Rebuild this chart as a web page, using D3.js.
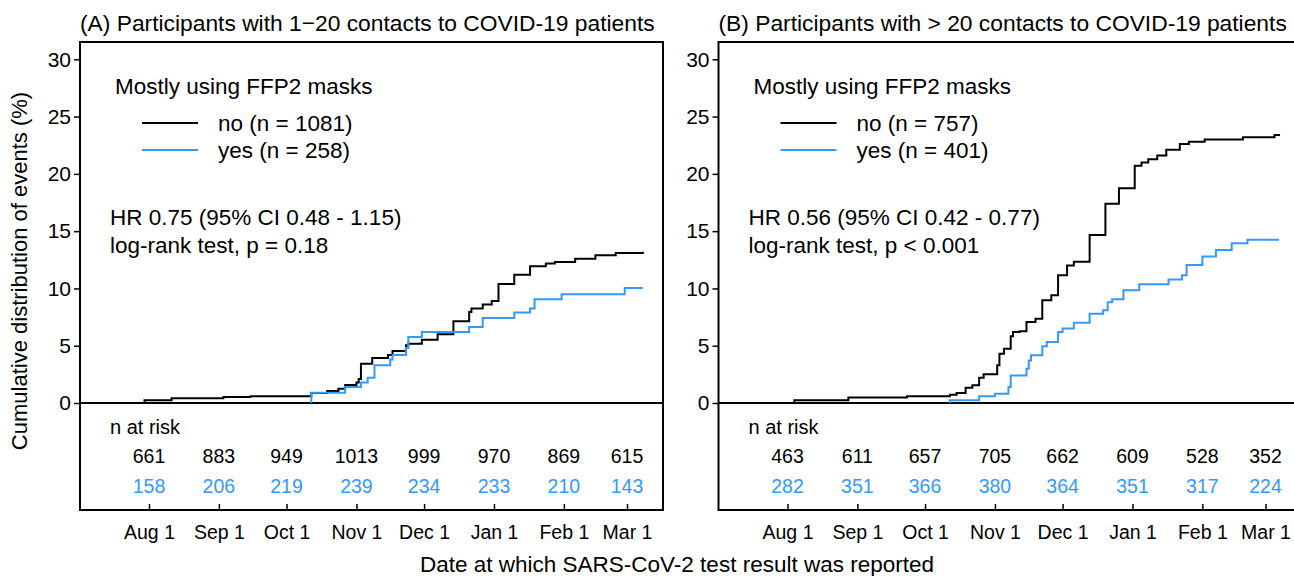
<!DOCTYPE html>
<meta charset="utf-8">
<style>
  body {margin: 0; background: #fff; font-family: "Liberation Sans", Arial, sans-serif;}
  text {fill: #000;}
</style>
<svg width="1294" height="576"></svg>
<script src="https://cdn.jsdelivr.net/npm/d3@7"></script>
<script>
  /**
   * ------------------------------------------------------------------
   * data
   * ------------------------------------------------------------------
   */
  const panelTitles = [
    "(A) Participants with 1\u221220 contacts to COVID-19 patients",
    "(B) Participants with > 20 contacts to COVID-19 patients"
  ];
  const legendLabels = [
    ["no (n = 1081)", "yes (n = 258)"],
    ["no (n = 757)", "yes (n = 401)"]
  ];
  const statsText = [
    ["HR 0.75 (95% CI 0.48 - 1.15)", "log-rank test, p = 0.18"],
    ["HR 0.56 (95% CI 0.42 - 0.77)", "log-rank test, p < 0.001"]
  ];
  const tickDates = ["2020-08-01", "2020-09-01", "2020-10-01", "2020-11-01",
                     "2020-12-01", "2021-01-01", "2021-02-01", "2021-03-01"];
  const tickLabels = ["Aug 1", "Sep 1", "Oct 1", "Nov 1", "Dec 1", "Jan 1", "Feb 1", "Mar 1"];
  const yTicks = [0, 5, 10, 15, 20, 25, 30];

  const riskNoA  = [661, 883, 949, 1013, 999, 970, 869, 615];
  const riskYesA = [158, 206, 219, 239, 234, 233, 210, 143];
  const riskNoB  = [463, 611, 657, 705, 662, 609, 528, 352];
  const riskYesB = [282, 351, 366, 380, 364, 351, 317, 224];

  // panel A, no FFP2
  const aNoDates = ["2020-07-30","2020-07-30","2020-08-11","2020-09-03","2020-09-15","2020-10-12","2020-10-19",
    "2020-10-24","2020-10-27","2020-11-01","2020-11-02","2020-11-03","2020-11-08","2020-11-15","2020-11-17",
    "2020-11-23","2020-11-24","2020-11-30","2020-12-07","2020-12-14","2020-12-21","2020-12-22","2020-12-27",
    "2020-12-31","2021-01-03","2021-01-10","2021-01-17","2021-01-24","2021-01-28","2021-02-06","2021-02-15",
    "2021-02-24","2021-03-08"];
  const aNoPct = [0, 0.23, 0.41, 0.52, 0.58, 0.87, 1.05, 1.25, 1.57, 1.8, 2.1, 3.43, 3.93, 4.2, 4.54, 5.03, 5.18,
    5.53, 6.0, 7.13, 7.95, 8.24, 8.59, 8.9, 10.39, 11.2, 11.93, 12.17, 12.3, 12.6, 12.9, 13.1, 13.2];
  // panel A, FFP2
  const aYesDates = ["2020-10-12","2020-10-12","2020-10-27","2020-11-03","2020-11-06","2020-11-09","2020-11-16",
    "2020-11-17","2020-11-23","2020-11-24","2020-11-30","2020-12-21","2020-12-27","2021-01-10","2021-01-17",
    "2021-01-19","2021-01-31","2021-02-28","2021-03-08"];
  const aYesPct = [0, 0.9, 1.4, 1.8, 2.2, 3.3, 3.8, 4.2, 4.8, 5.76, 6.2, 6.64, 7.42, 7.9, 8.24, 9.05, 9.5, 10.04, 10.04];
  // panel B, no FFP2
  const bNoDates = ["2020-08-04","2020-08-04","2020-08-28","2020-09-23","2020-10-12","2020-10-15","2020-10-19",
    "2020-10-22","2020-10-25","2020-10-27","2020-11-02","2020-11-03","2020-11-05","2020-11-08","2020-11-09",
    "2020-11-12","2020-11-15","2020-11-19","2020-11-22","2020-11-26","2020-11-29","2020-12-03","2020-12-06",
    "2020-12-13","2020-12-20","2020-12-26","2021-01-02","2021-01-05","2021-01-08","2021-01-12","2021-01-16",
    "2021-01-22","2021-01-26","2021-02-02","2021-02-19","2021-03-05","2021-03-07"];
  const bNoPct = [0, 0.23, 0.47, 0.58, 0.73, 0.87, 1.34, 1.54, 2.21, 2.5, 3.29, 4.3, 4.74, 5.82, 6.2, 6.26, 7.07,
    7.36, 8.96, 9.4, 11.15, 12.0, 12.34, 14.67, 17.4, 18.75, 20.7, 21.0, 21.28, 21.6, 22.1, 22.6, 22.8, 23.0,
    23.2, 23.4, 23.47];
  // panel B, FFP2
  const bYesDates = ["2020-10-12","2020-10-12","2020-10-25","2020-11-01","2020-11-07","2020-11-08","2020-11-15",
    "2020-11-16","2020-11-17","2020-11-22","2020-11-24","2020-11-29","2020-12-01","2020-12-06","2020-12-13",
    "2020-12-19","2020-12-21","2020-12-23","2020-12-28","2021-01-04","2021-01-17","2021-01-23","2021-01-25",
    "2021-02-01","2021-02-07","2021-02-14","2021-02-21","2021-03-07"];
  const bYesPct = [0, 0.23, 0.58, 0.81, 1.4, 2.4, 3.0, 3.7, 4.16, 4.95, 5.33, 6.2, 6.5, 7.0, 7.8, 8.1, 8.8, 9.05,
    9.84, 10.36, 10.77, 11.15, 12.05, 12.78, 13.36, 13.95, 14.24, 14.24];

  /**
   * ------------------------------------------------------------------
   * definitions
   * ------------------------------------------------------------------
   */
  const parse = d3.timeParse("%Y-%m-%d");
  const colNo = "#000000", colYes = "#3399ff";
  const boxW = 583, boxTop = 42, boxBottom = 510;
  const panelLeft = [80, 718.5];

  const x = d3.scaleTime()
    .domain([parse("2020-08-01"), parse("2021-03-01")])
    .range([69, 547]);
  const y = d3.scaleLinear().domain([0, 30]).range([403, 59.3]);

  const line = d3.line()
    .x(d => x(d[0])).y(d => y(d[1]))
    .curve(d3.curveStepAfter);

  const zip = (ds, vs) => ds.map((d, i) => [parse(d), vs[i]]);

  const panels = [
    {series: [zip(aNoDates, aNoPct), zip(aYesDates, aYesPct)], risk: [riskNoA, riskYesA]},
    {series: [zip(bNoDates, bNoPct), zip(bYesDates, bYesPct)], risk: [riskNoB, riskYesB]}
  ];

  const svg = d3.select("svg");
  const FONT = "Liberation Sans, Arial, sans-serif";

  /**
   * ------------------------------------------------------------------
   * panels
   * ------------------------------------------------------------------
   */
  panels.forEach((p, k) => {
    const g = svg.append("g").attr("transform", `translate(${panelLeft[k]},0)`);

    // title, left aligned with the box
    g.append("text")
      .attr("x", 0).attr("y", 31)
      .style("font-size", "22.8px")
      .text(panelTitles[k]);

    // box
    g.append("rect")
      .attr("x", 0).attr("y", boxTop)
      .attr("width", boxW).attr("height", boxBottom - boxTop)
      .attr("fill", "none").attr("stroke", "#000").attr("stroke-width", 2);

    // zero line
    g.append("line")
      .attr("x1", 0).attr("x2", boxW)
      .attr("y1", y(0)).attr("y2", y(0))
      .attr("stroke", "#000").attr("stroke-width", 2);

    // y axis
    const ya = g.append("g")
      .call(d3.axisLeft(y).tickValues(yTicks).tickSize(6).tickPadding(3));
    ya.select(".domain").remove();
    ya.selectAll("line").attr("stroke-width", 1.5);
    ya.selectAll("text").style("font-size", "21px").style("font-family", FONT);

    // x axis (ticks pointing up into the box)
    const xa = g.append("g")
      .attr("transform", `translate(0,${boxBottom})`)
      .call(d3.axisBottom(x).tickValues(tickDates.map(parse))
        .tickFormat((d, i) => tickLabels[i]).tickSizeInner(-6).tickSizeOuter(0).tickPadding(15));
    xa.select(".domain").remove();
    xa.selectAll("line").attr("stroke-width", 1.5);
    xa.selectAll("text").style("font-size", "19.5px").style("font-family", FONT);

    // curves
    [colNo, colYes].forEach((c, i) => {
      g.append("path")
        .datum(p.series[i])
        .attr("d", line)
        .attr("fill", "none")
        .attr("stroke", c)
        .attr("stroke-width", 2);
    });

    // legend
    g.append("text")
      .attr("x", 35).attr("y", 94)
      .style("font-size", "22.5px")
      .text("Mostly using FFP2 masks");
    [colNo, colYes].forEach((c, i) => {
      const ly = 123 + i * 27;
      g.append("line")
        .attr("x1", 62).attr("x2", 118)
        .attr("y1", ly).attr("y2", ly)
        .attr("stroke", c).attr("stroke-width", 2);
      g.append("text")
        .attr("x", 138).attr("y", ly + 8)
        .style("font-size", "22.5px")
        .text(legendLabels[k][i]);
    });

    // stats
    statsText[k].forEach((t, i) => {
      g.append("text")
        .attr("x", 30).attr("y", 225 + i * 28)
        .style("font-size", "22.5px")
        .text(t);
    });

    // number at risk
    g.append("text")
      .attr("x", 30).attr("y", 434)
      .style("font-size", "20px")
      .text("n at risk");
    p.risk.forEach((row, i) => {
      g.selectAll(null)
        .data(row)
        .enter().append("text")
        .attr("x", (d, j) => x(parse(tickDates[j])))
        .attr("y", 463 + i * 30)
        .attr("text-anchor", "middle")
        .style("font-size", "19.5px")
        .style("fill", i === 0 ? colNo : colYes)
        .text(d => d);
    });
  });

  /**
   * ------------------------------------------------------------------
   * shared axis titles
   * ------------------------------------------------------------------
   */
  svg.append("text")
    .attr("transform", "translate(27,271) rotate(-90)")
    .attr("text-anchor", "middle")
    .style("font-size", "22px")
    .text("Cumulative distribution of events (%)");

  svg.append("text")
    .attr("x", 677).attr("y", 572)
    .attr("text-anchor", "middle")
    .style("font-size", "22.5px")
    .text("Date at which SARS-CoV-2 test result was reported");
</script>
